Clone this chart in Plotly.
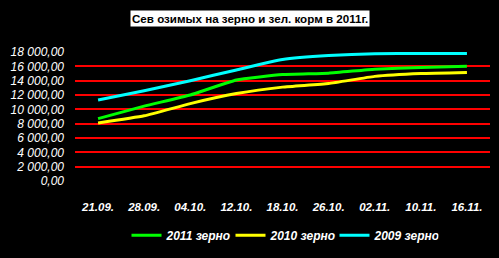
import plotly.graph_objects as go

categories = ["21.09.", "28.09.", "04.10.", "12.10.", "18.10.", "26.10.", "02.11.", "10.11.", "16.11."]
grain_2011 = [8700, 10450, 12000, 14100, 14850, 15050, 15600, 15850, 16000]
grain_2010 = [8100, 9100, 10800, 12200, 13100, 13600, 14600, 15000, 15150]
grain_2009 = [11300, 12600, 14000, 15500, 16950, 17500, 17750, 17800, 17800]
series_names = ["2011 зерно", "2010 зерно", "2009 зерно"]
series_colors = ["#00FF00", "#FFFF00", "#00FFFF"]
y_ticks = list(range(0, 18001, 2000))
y_ticktext = ["<i>" + "{:,.2f}".format(v).replace(",", " ").replace(".", ",") + "</i>" for v in y_ticks]
title_text = "Сев озимых на зерно и зел. корм в 2011г."

FONT = "Liberation Sans, Arial, sans-serif"

fig = go.Figure()
for name, vals, col in zip(series_names, [grain_2011, grain_2010, grain_2009], series_colors):
    fig.add_trace(go.Scatter(
        x=categories, y=vals, name="<b><i>" + name + "</i></b>", mode="lines",
        line=dict(color=col, width=3, shape="spline", smoothing=0.4),
    ))

fig.update_layout(
    width=499, height=258,
    paper_bgcolor="black", plot_bgcolor="black",
    margin=dict(l=75, r=9, t=52, b=65),
    showlegend=True,
    legend=dict(
        orientation="h", x=0.5, xanchor="center", y=-0.42, yanchor="middle",
        font=dict(family=FONT, size=12, color="white"),
        bgcolor="rgba(0,0,0,0)", entrywidth=59, entrywidthmode="pixels",
    ),
    xaxis=dict(
        type="category", range=[-0.5, 8.5], showgrid=False, zeroline=False, showline=False,
        ticks="", ticklabelstandoff=17,
        tickvals=categories, ticktext=["<b><i>" + c + "</i></b>" for c in categories],
        tickfont=dict(family=FONT, size=11.5, color="white"),
    ),
    yaxis=dict(
        range=[0, 18000], tickvals=y_ticks, ticktext=y_ticktext,
        showgrid=True, gridcolor="#FF0000", gridwidth=1.5,
        zeroline=True, zerolinecolor="black", zerolinewidth=3,
        showline=False, ticks="", ticklabelstandoff=10,
        tickfont=dict(family=FONT, size=12, color="white"),
    ),
    annotations=[dict(
        text="<b>" + title_text + "</b>", xref="paper", yref="paper",
        x=(250 - 75) / 415, y=(192.6 - 16) / 140.6, xanchor="center", yanchor="middle",
        showarrow=False, bgcolor="white", borderpad=1,
        font=dict(family=FONT, size=11.6, color="black"),
    )],
)

fig.write_html("out.html")
